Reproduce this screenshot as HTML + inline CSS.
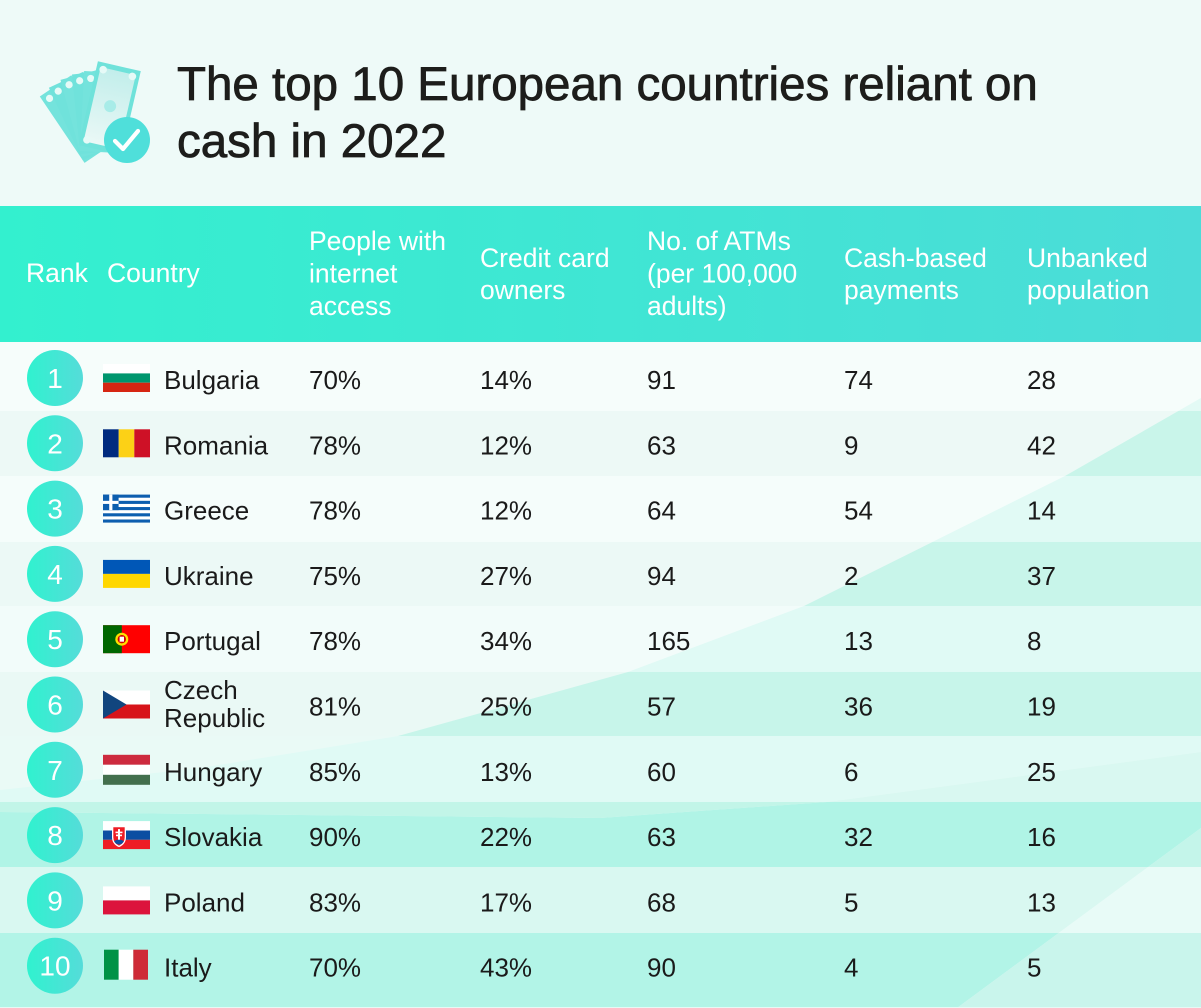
<!DOCTYPE html>
<html><head><meta charset="utf-8"><style>html,body{margin:0;padding:0;background:#eefaf8;}svg{display:block;}</style></head>
<body>
<svg width="1201" height="1008" viewBox="0 0 1201 1008" xmlns="http://www.w3.org/2000/svg" font-family="'Liberation Sans', Arial, sans-serif">
<defs>
<linearGradient id="hdr" x1="0" x2="1" y1="0" y2="0"><stop offset="0" stop-color="#33f0cf"/><stop offset="1" stop-color="#4cdcd8"/></linearGradient>
<linearGradient id="circ" x1="0" x2="1" y1="0" y2="0"><stop offset="0" stop-color="#30f2cf"/><stop offset="1" stop-color="#55dcd9"/></linearGradient>
<linearGradient id="note" x1="0" x2="0" y1="0" y2="1"><stop offset="0" stop-color="#c2eeeb"/><stop offset="1" stop-color="#eaf8f6"/></linearGradient>
<clipPath id="rA"><path d="M0,342 L1201,342 L1201,398 L1065,476 L804,606 L628,672 L398,736 L200,768 L0,790 Z"/></clipPath>
<clipPath id="rB"><path d="M1201,398 L1065,476 L804,606 L628,672 L398,736 L200,768 L0,790 L0,812 L600,818 L827,802 L1201,752 Z"/></clipPath>
<clipPath id="rC"><path d="M0,812 L600,818 L827,802 L1201,752 L1201,828 L957,1008 L0,1008 Z"/></clipPath>
<clipPath id="rD"><path d="M1201,828 L957,1008 L1201,1008 Z"/></clipPath>
</defs>

<rect x="0" y="0" width="1201" height="1008" fill="#eefaf8"/>

<!-- icon -->
<g>
 <g transform="rotate(-34 100 150)"><rect x="80" y="72" width="38" height="80" fill="#74e3dc"/><circle cx="87" cy="79" r="3.6" fill="#e6faf7"/></g>
 <g transform="rotate(-25 100 150)"><rect x="80" y="72" width="38" height="80" fill="#70e2db"/><circle cx="87" cy="79" r="3.6" fill="#e6faf7"/></g>
 <g transform="rotate(-15 100 150)"><rect x="80" y="72" width="38" height="80" fill="#74e3dc"/><circle cx="87" cy="79" r="3.6" fill="#e6faf7"/></g>
 <g transform="rotate(-6 100 150)"><rect x="80" y="72" width="38" height="80" fill="#70e2db"/><circle cx="87" cy="79" r="3.6" fill="#e6faf7"/></g>
 <g transform="rotate(3 100 150)"><rect x="80" y="72" width="38" height="80" fill="#74e3dc"/><circle cx="87" cy="79" r="3.6" fill="#e6faf7"/></g>
 <g transform="rotate(13 100 150)">
  <rect x="78" y="64" width="44" height="86" fill="#6fe2da"/>
  <rect x="82" y="69" width="36" height="76" fill="url(#note)"/>
  <circle cx="85" cy="71" r="3.8" fill="#e6faf7"/>
  <circle cx="115" cy="71" r="3.8" fill="#e6faf7"/>
  <circle cx="85" cy="143" r="3.8" fill="#e6faf7"/>
  <circle cx="100" cy="105" r="6" fill="#a8ece8"/>
 </g>
 <circle cx="127" cy="140" r="23" fill="#4fdfda"/>
 <polyline points="115,141 123,149 138,131" fill="none" stroke="#ffffff" stroke-width="4.2" stroke-linecap="round" stroke-linejoin="round"/>
</g>

<!-- title -->
<g fill="#1d1d1b" stroke="#1d1d1b" stroke-width="0.8" font-size="47.5">
 <text x="177" y="100">The top 10 European countries reliant on</text>
 <text x="177" y="157">cash in 2022</text>
</g>

<!-- header -->
<rect x="0" y="206" width="1201" height="136" fill="url(#hdr)"/>
<g fill="#ffffff" font-size="26.5">
 <text x="26" y="282">Rank</text>
 <text x="107" y="282">Country</text>
 <text x="309" y="250">People with</text>
 <text x="309" y="282.5">internet</text>
 <text x="309" y="315">access</text>
 <text x="480" y="267">Credit card</text>
 <text x="480" y="299">owners</text>
 <text x="647" y="250">No. of ATMs</text>
 <text x="647" y="282.5">(per 100,000</text>
 <text x="647" y="315">adults)</text>
 <text x="844" y="267">Cash-based</text>
 <text x="844" y="299">payments</text>
 <text x="1027" y="267">Unbanked</text>
 <text x="1027" y="299">population</text>
</g>

<!-- row backgrounds -->
<rect x="0" y="1007" width="1201" height="1" fill="#e6f9f5"/>
<g clip-path="url(#rA)">
 <rect x="0" y="342" width="1201" height="69" fill="#f6fdfb"/>
 <rect x="0" y="411" width="1201" height="65" fill="#edf9f6"/>
 <rect x="0" y="476" width="1201" height="66" fill="#f5fdfb"/>
 <rect x="0" y="542" width="1201" height="64" fill="#ecf9f6"/>
 <rect x="0" y="606" width="1201" height="66" fill="#f2fcfa"/>
 <rect x="0" y="672" width="1201" height="64" fill="#eaf9f5"/>
 <rect x="0" y="736" width="1201" height="66" fill="#eafaf6"/>
</g>
<g clip-path="url(#rB)">
 <rect x="0" y="342" width="1201" height="69" fill="#e3faf5"/>
 <rect x="0" y="411" width="1201" height="65" fill="#c9f5ea"/>
 <rect x="0" y="476" width="1201" height="66" fill="#e1faf5"/>
 <rect x="0" y="542" width="1201" height="64" fill="#c8f5ea"/>
 <rect x="0" y="606" width="1201" height="66" fill="#e0faf5"/>
 <rect x="0" y="672" width="1201" height="64" fill="#c7f5ea"/>
 <rect x="0" y="736" width="1201" height="66" fill="#e0faf5"/>
 <rect x="0" y="802" width="1201" height="65" fill="#c2f5e8"/>
 <rect x="0" y="867" width="1201" height="66" fill="#dcf9f2"/>
 <rect x="0" y="933" width="1201" height="74" fill="#b8f4e8"/>
</g>
<g clip-path="url(#rC)">
 <rect x="0" y="736" width="1201" height="66" fill="#d9f8f1"/>
 <rect x="0" y="802" width="1201" height="65" fill="#b0f4e6"/>
 <rect x="0" y="867" width="1201" height="66" fill="#d9f8f1"/>
 <rect x="0" y="933" width="1201" height="74" fill="#b2f4e7"/>
</g>
<g clip-path="url(#rD)">
 <rect x="0" y="802" width="1201" height="65" fill="#c4f5ea"/>
 <rect x="0" y="867" width="1201" height="66" fill="#e8fbf7"/>
 <rect x="0" y="933" width="1201" height="74" fill="#c9f5ec"/>
</g>

<!-- rank circles -->
<g fill="url(#circ)">
 <circle cx="55" cy="378" r="28"/>
 <circle cx="55" cy="443.3" r="28"/>
 <circle cx="55" cy="508.6" r="28"/>
 <circle cx="55" cy="573.9" r="28"/>
 <circle cx="55" cy="639.2" r="28"/>
 <circle cx="55" cy="704.5" r="28"/>
 <circle cx="55" cy="769.8" r="28"/>
 <circle cx="55" cy="835.1" r="28"/>
 <circle cx="55" cy="900.4" r="28"/>
 <circle cx="55" cy="965.7" r="28"/>
</g>
<g fill="#ffffff" font-size="28" text-anchor="middle">
 <text x="55" y="388">1</text>
 <text x="55" y="453.3">2</text>
 <text x="55" y="518.6">3</text>
 <text x="55" y="583.9">4</text>
 <text x="55" y="649.2">5</text>
 <text x="55" y="714.5">6</text>
 <text x="55" y="779.8">7</text>
 <text x="55" y="845.1">8</text>
 <text x="55" y="910.4">9</text>
 <text x="55" y="975.7">10</text>
</g>

<!-- flags -->
<g transform="translate(103,364)">
 <rect width="47" height="9.4" fill="#ffffff"/><rect y="9.4" width="47" height="9.3" fill="#00966e"/><rect y="18.7" width="47" height="9.3" fill="#d62612"/>
</g>
<g transform="translate(103,429.3)">
 <rect width="15.7" height="28" fill="#002b7f"/><rect x="15.7" width="15.6" height="28" fill="#fcd116"/><rect x="31.3" width="15.7" height="28" fill="#ce1126"/>
</g>
<g transform="translate(103,494.6)">
 <rect width="47" height="28" fill="#ffffff"/>
 <rect y="0" width="47" height="3.11" fill="#0d5eaf"/>
 <rect y="6.22" width="47" height="3.11" fill="#0d5eaf"/>
 <rect y="12.44" width="47" height="3.11" fill="#0d5eaf"/>
 <rect y="18.67" width="47" height="3.11" fill="#0d5eaf"/>
 <rect y="24.89" width="47" height="3.11" fill="#0d5eaf"/>
 <rect width="15.6" height="15.55" fill="#0d5eaf"/>
 <rect x="6.2" width="3.2" height="15.55" fill="#ffffff"/>
 <rect y="6.22" width="15.6" height="3.11" fill="#ffffff"/>
</g>
<g transform="translate(103,559.9)">
 <rect width="47" height="14" fill="#0057b7"/><rect y="14" width="47" height="14" fill="#ffd700"/>
</g>
<g transform="translate(103,625.2)">
 <rect width="47" height="28" fill="#ff0000"/><rect width="18.8" height="28" fill="#006600"/>
 <circle cx="18.8" cy="14" r="6.5" fill="#ffe000"/><circle cx="18.8" cy="14" r="4.2" fill="#d40000"/><rect x="16.6" y="11.5" width="4.4" height="5" fill="#ffffff"/>
</g>
<g transform="translate(103,690.5)">
 <rect width="47" height="14" fill="#ffffff"/><rect y="14" width="47" height="14" fill="#d7141a"/>
 <polygon points="0,0 23.5,14 0,28" fill="#11457e"/>
</g>
<g transform="translate(103,754.8)">
 <rect width="47" height="10" fill="#cd2a3e"/><rect y="10" width="47" height="10" fill="#ffffff"/><rect y="20" width="47" height="10" fill="#436f4d"/>
</g>
<g transform="translate(103,821.1)">
 <rect width="47" height="9.4" fill="#ffffff"/><rect y="9.4" width="47" height="9.3" fill="#0b4ea2"/><rect y="18.7" width="47" height="9.3" fill="#ee1c25"/>
 <path d="M9,5 L23,5 L23,16 Q23,23 16,26 Q9,23 9,16 Z" fill="#ffffff"/>
 <path d="M10.3,6.2 L21.7,6.2 L21.7,16 Q21.7,22 16,24.6 Q10.3,22 10.3,16 Z" fill="#ee1c25"/>
 <rect x="15" y="8" width="2" height="11" fill="#ffffff"/><rect x="12.5" y="10.5" width="7" height="1.6" fill="#ffffff"/><rect x="13" y="13.5" width="6" height="1.6" fill="#ffffff"/>
 <path d="M11,20 Q16,17 21,20 L19,22.5 Q16,24.3 13,22.5 Z" fill="#0b4ea2"/>
</g>
<g transform="translate(103,886.4)">
 <rect width="47" height="14" fill="#ffffff"/><rect y="14" width="47" height="14" fill="#dc143c"/>
</g>
<g transform="translate(104,949.7)">
 <rect width="14.7" height="30" fill="#009246"/><rect x="14.7" width="14.6" height="30" fill="#ffffff"/><rect x="29.3" width="14.7" height="30" fill="#ce2b37"/>
</g>

<!-- body text -->
<g fill="#1a1a1a" font-size="26">
 <text x="164" y="389">Bulgaria</text><text x="309" y="389">70%</text><text x="480" y="389">14%</text><text x="647" y="389">91</text><text x="844" y="389">74</text><text x="1027" y="389">28</text>
 <text x="164" y="454.3">Romania</text><text x="309" y="454.3">78%</text><text x="480" y="454.3">12%</text><text x="647" y="454.3">63</text><text x="844" y="454.3">9</text><text x="1027" y="454.3">42</text>
 <text x="164" y="519.6">Greece</text><text x="309" y="519.6">78%</text><text x="480" y="519.6">12%</text><text x="647" y="519.6">64</text><text x="844" y="519.6">54</text><text x="1027" y="519.6">14</text>
 <text x="164" y="584.9">Ukraine</text><text x="309" y="584.9">75%</text><text x="480" y="584.9">27%</text><text x="647" y="584.9">94</text><text x="844" y="584.9">2</text><text x="1027" y="584.9">37</text>
 <text x="164" y="650.2">Portugal</text><text x="309" y="650.2">78%</text><text x="480" y="650.2">34%</text><text x="647" y="650.2">165</text><text x="844" y="650.2">13</text><text x="1027" y="650.2">8</text>
 <text x="164" y="699">Czech</text><text x="164" y="727">Republic</text><text x="309" y="715.5">81%</text><text x="480" y="715.5">25%</text><text x="647" y="715.5">57</text><text x="844" y="715.5">36</text><text x="1027" y="715.5">19</text>
 <text x="164" y="780.8">Hungary</text><text x="309" y="780.8">85%</text><text x="480" y="780.8">13%</text><text x="647" y="780.8">60</text><text x="844" y="780.8">6</text><text x="1027" y="780.8">25</text>
 <text x="164" y="846.1">Slovakia</text><text x="309" y="846.1">90%</text><text x="480" y="846.1">22%</text><text x="647" y="846.1">63</text><text x="844" y="846.1">32</text><text x="1027" y="846.1">16</text>
 <text x="164" y="911.4">Poland</text><text x="309" y="911.4">83%</text><text x="480" y="911.4">17%</text><text x="647" y="911.4">68</text><text x="844" y="911.4">5</text><text x="1027" y="911.4">13</text>
 <text x="164" y="976.7">Italy</text><text x="309" y="976.7">70%</text><text x="480" y="976.7">43%</text><text x="647" y="976.7">90</text><text x="844" y="976.7">4</text><text x="1027" y="976.7">5</text>
</g>
</svg>
</body></html>
